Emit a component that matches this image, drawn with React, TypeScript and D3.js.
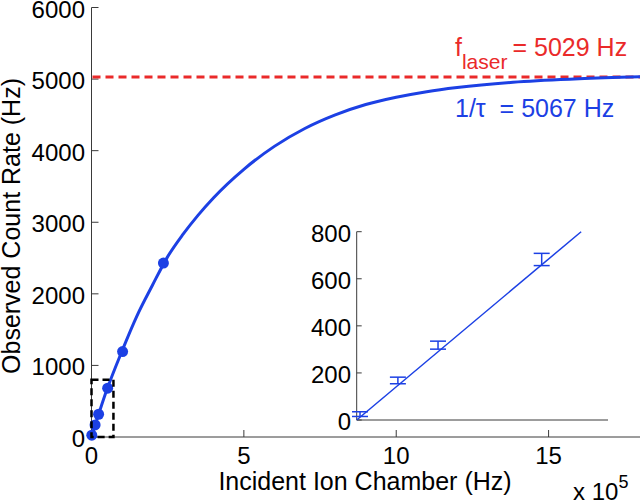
import React from "react";
import * as d3 from "d3";

// ---- data ----
const markerX = [0.0095, 0.118, 0.233, 0.53, 1.02, 2.36]; // x 10^5 Hz
const markerY = [25, 168, 318, 682, 1193, 2429];
const fitX = [0, 0.5, 1, 1.5, 2, 2.5, 3, 3.5, 4, 5, 6, 7, 8, 9, 10, 11, 12, 14, 16, 18];
const fitY = [0, 655, 1200, 1700, 2120, 2520, 2830, 3100, 3340, 3740, 4060, 4310, 4500, 4645, 4746, 4824, 4882, 4961, 5006, 5032];
const laserRate = 5029;
const insetX = [0.0095, 0.118, 0.233, 0.53];
const insetY = [25, 168, 318, 682];
const insetErr = [10, 14, 17, 26];
const insetLineX = [0, 0.643];
const insetLineY = [0, 800];
const xTicks = [0, 5, 10, 15];
const yTicks = [0, 1000, 2000, 3000, 4000, 5000, 6000];
const insetYTicks = [0, 200, 400, 600, 800];
const boxX = [0, 0.72];
const boxY = [0, 800];

const BLUE = "#1c40e4";
const RED = "#ea2a2a";
const AX = "#3a3a3a";
const FONT = "'Liberation Sans', Arial, Helvetica, sans-serif";

export default function App() {
  const x = d3.scaleLinear().domain([0, 18]).range([91.5, 640]);
  const y = d3.scaleLinear().domain([0, 6000]).range([437, 7.5]);
  const ix = d3.scaleLinear().domain([0, 0.72]).range([356.7, 608]);
  const iy = d3.scaleLinear().domain([0, 800]).range([420, 231.7]);

  const fitLine = d3
    .line<number>()
    .x((_, i) => x(fitX[i]))
    .y((d) => y(d))
    .curve(d3.curveMonotoneX);
  const insetLine = d3
    .line<number>()
    .x((_, i) => ix(insetLineX[i]))
    .y((d) => iy(d));

  return (
    <svg
      width={640}
      height={503}
      style={{ position: "absolute", left: 0, top: 0, background: "#fff" }}
      fontFamily={FONT}
    >
      <rect width={640} height={503} fill="#fff" />
      {/* main axes */}
      <line x1={x(0)} x2={x(18)} y1={y(0)} y2={y(0)} stroke={AX} strokeWidth={1} />
      <line x1={x(0)} x2={x(0)} y1={y(0)} y2={y(6000)} stroke={AX} strokeWidth={1} />
      {yTicks.map((t) => (
        <g key={"yt" + t}>
          <line x1={x(0)} x2={x(0) + 7} y1={y(t)} y2={y(t)} stroke={AX} />
          <text x={85} y={y(t) + 1.5} fontSize={24} textAnchor="end" dominantBaseline="central" fill="#000">
            {t}
          </text>
        </g>
      ))}
      {xTicks.map((t) => (
        <g key={"xt" + t}>
          <line x1={x(t)} x2={x(t)} y1={y(0)} y2={y(0) - 7} stroke={AX} />
          <text x={x(t)} y={464} fontSize={24} textAnchor="middle" fill="#000">
            {t}
          </text>
        </g>
      ))}
      <text x={365} y={490} fontSize={25} textAnchor="middle" fill="#000">
        Incident Ion Chamber (Hz)
      </text>
      <text x={573} y={500} fontSize={24} fill="#000">
        x 10
        <tspan fontSize={18} dy={-12}>
          5
        </tspan>
      </text>
      <text
        transform={`translate(20,226) rotate(-90)`}
        fontSize={25}
        textAnchor="middle"
        fill="#000"
      >
        Observed Count Rate (Hz)
      </text>

      {/* laser line */}
      <line
        x1={x(0) + 1}
        x2={x(18)}
        y1={y(laserRate)}
        y2={y(laserRate)}
        stroke={RED}
        strokeWidth={3}
        strokeDasharray="8,5"
      />
      {/* fit curve */}
      <path d={fitLine(fitY) || ""} fill="none" stroke={BLUE} strokeWidth={3} />
      {markerY.map((v, i) => (
        <circle key={"m" + i} cx={x(markerX[i])} cy={y(v)} r={5.5} fill={BLUE} />
      ))}
      {/* dashed box */}
      <rect
        x={x(boxX[0])}
        y={y(boxY[1])}
        width={x(boxX[1]) - x(boxX[0])}
        height={y(boxY[0]) - y(boxY[1])}
        fill="none"
        stroke="#000"
        strokeWidth={2.5}
        strokeDasharray="7,4"
      />

      {/* annotations */}
      <text x={455} y={56} fontSize={25} fill={RED}>
        f
        <tspan fontSize={21} dy={13}>
          laser
        </tspan>
        <tspan dy={-13} dx={5}>
          = 5029 Hz
        </tspan>
      </text>
      <text x={455} y={117} fontSize={25} fill={BLUE} style={{ whiteSpace: "pre" }}>
        {"1/τ  = 5067 Hz"}
      </text>

      {/* inset */}
      <rect x={ix(0)} y={iy(800)} width={ix(0.72) - ix(0)} height={iy(0) - iy(800)} fill="#fff" />
      <line x1={ix(0)} x2={ix(0.72)} y1={iy(0)} y2={iy(0)} stroke={AX} />
      <line x1={ix(0)} x2={ix(0)} y1={iy(0)} y2={iy(800)} stroke={AX} />
      {insetYTicks.map((t) => (
        <g key={"it" + t}>
          <line x1={ix(0)} x2={ix(0) + 5} y1={iy(t)} y2={iy(t)} stroke={AX} />
          <text x={351} y={iy(t) + 1.5} fontSize={24} textAnchor="end" dominantBaseline="central" fill="#000">
            {t}
          </text>
        </g>
      ))}
      <path d={insetLine(insetLineY) || ""} fill="none" stroke={BLUE} strokeWidth={1.5} />
      {insetY.map((v, i) => {
        const cx = ix(insetX[i]);
        const y1 = iy(v - insetErr[i]);
        const y2 = iy(v + insetErr[i]);
        return (
          <g key={"e" + i} stroke={BLUE} strokeWidth={1.5}>
            <line x1={cx} x2={cx} y1={y1} y2={y2} />
            <line x1={cx - 8} x2={cx + 8} y1={y1} y2={y1} />
            <line x1={cx - 8} x2={cx + 8} y1={y2} y2={y2} />
          </g>
        );
      })}
    </svg>
  );
}
